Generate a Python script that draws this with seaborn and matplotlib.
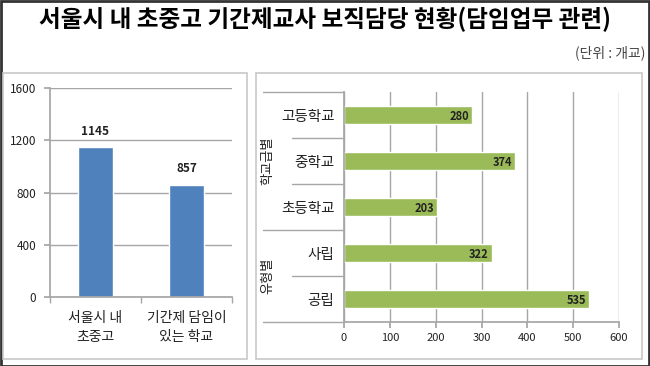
import numpy as np
import pandas as pd
import matplotlib.pyplot as plt
import seaborn as sns
from matplotlib.patches import Rectangle
from matplotlib.lines import Line2D

# 데이터
학교구분 = ["서울시 내\n초중고", "기간제 담임이\n있는 학교"]
학교수 = [1145, 857]

세부구분 = ["고등학교", "중학교", "초등학교", "사립", "공립"]
세부학교수 = [280, 374, 203, 322, 535]
그룹명 = ["학교급별", "유형별"]

sns.set_theme(style="white")
plt.rcParams['font.family'] = ['Noto Sans CJK KR', 'DejaVu Sans']

W, H = 650, 366
fig = plt.figure(figsize=(W / 100, H / 100), dpi=100)

def px_axes(x0, y0, x1, y1):
    return fig.add_axes([x0 / W, 1 - y1 / H, (x1 - x0) / W, (y1 - y0) / H])

# 테두리와 패널
fig.patches.append(Rectangle((0.5 / W, 0.5 / H), 1 - 1.5 / W, 1 - 1.5 / H, transform=fig.transFigure,
                             fill=False, edgecolor="#333333", lw=2))
for (x0, y0, x1, y1) in [(3, 73, 247, 359), (256, 73, 642, 359)]:
    fig.patches.append(Rectangle((x0 / W, 1 - y1 / H), (x1 - x0) / W, (y1 - y0) / H,
                                 transform=fig.transFigure, fill=False, edgecolor="#c8c8c8", lw=1.2))

fig.text(325 / W, 1 - 19 / H, "서울시 내 초중고 기간제교사 보직담당 현황(담임업무 관련)",
         ha="center", va="center", fontsize=17, fontweight="bold", color="black")
fig.text(645 / W, 1 - 53 / H, "(단위 : 개교)", ha="right", va="center", fontsize=10, color="#444444")

grid_c = "#a6a6a6"

# 왼쪽 막대그래프
ax1 = px_axes(50, 88, 232, 297)
sns.barplot(x=학교구분, y=학교수, color="#4f81bd", width=0.39, saturation=1, ax=ax1)
ax1.set_ylim(0, 1600)
ax1.set_xlim(-0.5, 1.5)
ax1.set_yticks([0, 400, 800, 1200, 1600])
ax1.yaxis.grid(True, color=grid_c, lw=1)
ax1.set_axisbelow(True)
for s in ["top", "right"]:
    ax1.spines[s].set_visible(False)
for s in ["left", "bottom"]:
    ax1.spines[s].set_color(grid_c)
ax1.tick_params(axis="y", length=4, color=grid_c, pad=6, labelsize=8.5, labelcolor="#222222", left=True)
ax1.tick_params(axis="x", length=0, pad=10, labelsize=10, labelcolor="#222222")
ax1.set_xticks([-0.5, 0.5, 1.5], minor=True)
ax1.tick_params(axis="x", which="minor", length=4, color=grid_c, bottom=True)
for lab in ax1.get_xticklabels():
    lab.set_linespacing(1.5)
for i, v in enumerate(학교수):
    ax1.annotate(str(v), (i, v), xytext=(0, 7), textcoords="offset points",
                 ha="center", va="bottom", fontsize=8.5, fontweight="bold", color="#222222")
ax1.set_xlabel("")
ax1.set_ylabel("")

# 오른쪽 가로 막대그래프
ax2 = px_axes(344, 92, 619, 322)
sns.barplot(x=세부학교수, y=세부구분, color="#9bbb59", width=0.37, saturation=1, orient="h", ax=ax2)
ax2.set_xlim(0, 600)
ax2.set_ylim(4.5, -0.5)
ax2.set_xticks(np.arange(0, 601, 100))
ax2.xaxis.grid(True, color=grid_c, lw=1)
ax2.set_axisbelow(True)
for s in ["top", "right"]:
    ax2.spines[s].set_visible(False)
for s in ["left", "bottom"]:
    ax2.spines[s].set_color(grid_c)
ax2.tick_params(axis="x", length=4, color=grid_c, pad=4, labelsize=8, labelcolor="#222222", bottom=True)
ax2.tick_params(axis="y", length=0, pad=7, labelsize=10.5, labelcolor="#222222")
for i, v in enumerate(세부학교수):
    ax2.annotate(str(v), (v, i), xytext=(-2, -1), textcoords="offset points",
                 ha="right", va="center", fontsize=8, fontweight="bold", color="#222222")
ax2.set_xlabel("")
ax2.set_ylabel("")

# 다단계 범주 구분선
tr = ax2.get_yaxis_transform()
for y, x0, x1 in [(-0.5, -0.295, 0), (0.5, -0.19, 0), (1.5, -0.19, 0),
                  (2.5, -0.295, 0), (3.5, -0.19, 0), (4.5, -0.295, 0)]:
    ax2.add_line(Line2D([x0, x1], [y, y], transform=tr, color=grid_c, lw=1, clip_on=False))
ax2.text(-0.278, 1, 그룹명[0], transform=tr, rotation=90, ha="center", va="center",
         fontsize=9.5, color="#222222")
ax2.text(-0.278, 3.5, 그룹명[1], transform=tr, rotation=90, ha="center", va="center",
         fontsize=9.5, color="#222222")

fig.savefig("out.png", dpi=100)
